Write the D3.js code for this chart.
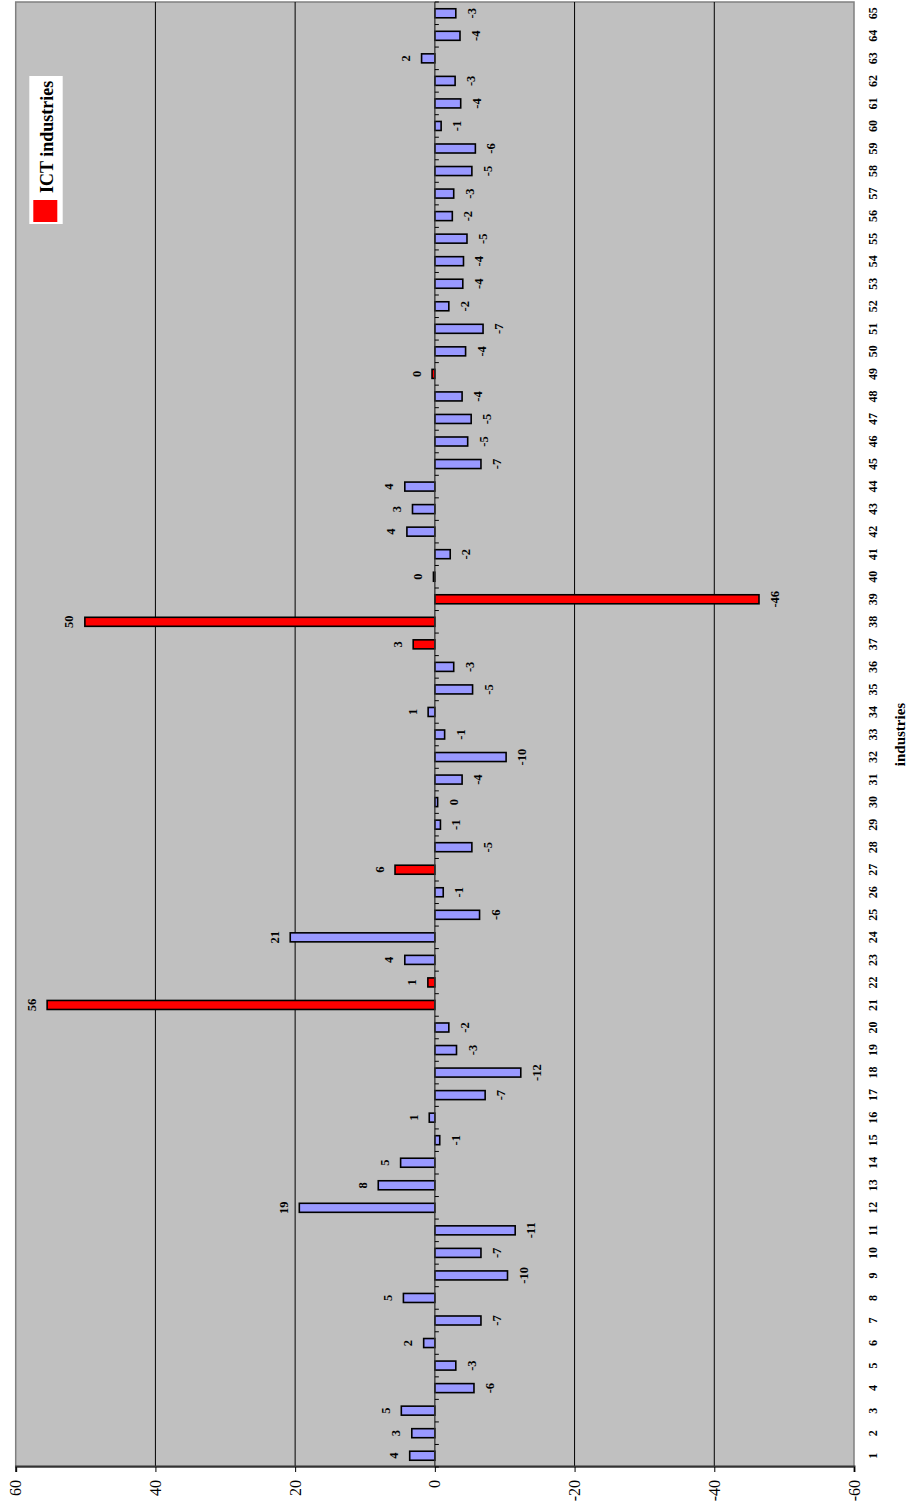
<!DOCTYPE html>
<html>
<head>
<meta charset="utf-8">
<script src="https://cdn.jsdelivr.net/npm/d3@7"></script>
<style>
  body { margin: 0; background: #fff; }
  svg { display: block; }
  text { font-family: "Times New Roman", "Liberation Serif", "DejaVu Serif", serif; }
</style>
</head>
<body>
<svg id="chart"></svg>
<script>
// industry numbers 1..65
const industries = d3.range(1, 66)
// change per industry
const values = [
  3.6, 3.3, 4.8, -5.6, -3.0, 1.6, -6.6, 4.5, -10.4, -6.6,
  -11.5, 19.4, 8.1, 4.9, -0.7, 0.8, -7.2, -12.3, -3.1, -2.0,
  55.5, 1.0, 4.3, 20.7, -6.4, -1.2, 5.7, -5.3, -0.8, -0.4,
  -3.9, -10.2, -1.4, 0.96, -5.4, -2.7, 3.1, 50.1, -46.4, 0.2,
  -2.2, 4.0, 3.2, 4.3, -6.6, -4.7, -5.2, -3.9, 0.4, -4.4,
  -6.9, -2.0, -4.0, -4.1, -4.6, -2.5, -2.7, -5.3, -5.8, -0.9,
  -3.7, -2.9, 1.9, -3.6, -3.0
]
// ICT industries
const ictIndustries = [21, 22, 27, 37, 38, 39, 49]
const valueTicks = [60, 40, 20, 0, -20, -40, -60]
const gridTicks = [40, 20, -20, -40]
const legendLabel = 'ICT industries'
const axisTitle = 'industries'

const data = industries.map((d, i) => ({ industry: d, value: values[i], ict: ictIndustries.includes(d) }))

// page is 913 x 1510, chart drawn flat then turned a quarter left
const pageW = 913
const pageH = 1510
const plot = { left: 43, right: 1508, top: 15.7, bottom: 854 }

const svg = d3.select('#chart').attr('width', pageW).attr('height', pageH)
const g = svg.append('g').attr('transform', `translate(0,${pageH}) rotate(-90)`)

const x = d3.scaleBand()
  .domain(industries)
  .range([plot.left, plot.right])
  .paddingInner(0.6)
  .paddingOuter(0.3)

const y = d3.scaleLinear()
  .domain([-60, 60])
  .range([plot.bottom, plot.top])

// plot area
g.append('rect')
  .attr('x', plot.left)
  .attr('y', plot.top)
  .attr('width', plot.right - plot.left)
  .attr('height', plot.bottom - plot.top)
  .attr('fill', '#c0c0c0')
  .attr('stroke', '#808080')
  .attr('stroke-width', 1.5)

// gridlines
g.selectAll('.grid')
  .data(gridTicks)
  .enter()
  .append('line')
  .attr('class', 'grid')
  .attr('x1', plot.left)
  .attr('x2', plot.right)
  .attr('y1', d => y(d))
  .attr('y2', d => y(d))
  .attr('stroke', '#000')
  .attr('stroke-width', 1)

// value axis
const yAxis = d3.axisLeft(y).tickValues(valueTicks).tickSize(5).tickPadding(8)
const yG = g.append('g')
  .attr('transform', `translate(${plot.left},0)`)
  .call(yAxis)
yG.select('.domain').attr('stroke', '#333').attr('stroke-width', 2)
yG.selectAll('.tick line').attr('stroke', '#000')
yG.selectAll('.tick text')
  .attr('font-size', 16)
  .attr('fill', '#000')
  .style('font-family', '"Times New Roman", "Liberation Serif", serif')
  .text(d => String(d))

// bars
g.selectAll('.bar')
  .data(data)
  .enter()
  .append('rect')
  .attr('class', 'bar')
  .attr('x', d => x(d.industry))
  .attr('width', x.bandwidth())
  .attr('y', d => y(Math.max(0, d.value)))
  .attr('height', d => Math.abs(y(d.value) - y(0)))
  .attr('fill', d => d.ict ? '#ff0000' : '#9999ff')
  .attr('stroke', '#000')
  .attr('stroke-width', 1.6)

// category axis line at zero with ticks between the industries
const zeroY = y(0)
g.append('line')
  .attr('x1', plot.left)
  .attr('x2', plot.right)
  .attr('y1', zeroY)
  .attr('y2', zeroY)
  .attr('stroke', '#333')
  .attr('stroke-width', 1.3)
const bounds = d3.range(industries.length + 1).map(i => plot.left + i * x.step())
g.selectAll('.ctick')
  .data(bounds)
  .enter()
  .append('line')
  .attr('class', 'ctick')
  .attr('x1', d => d)
  .attr('x2', d => d)
  .attr('y1', zeroY)
  .attr('y2', zeroY + 4)
  .attr('stroke', '#000')
  .attr('stroke-width', 1)

// data labels
g.selectAll('.lbl')
  .data(data)
  .enter()
  .append('text')
  .attr('class', 'lbl')
  .attr('x', d => x(d.industry) + x.bandwidth() / 2)
  .attr('y', d => d.value >= 0 ? y(d.value) - 11.5 : y(d.value) + 20)
  .attr('text-anchor', 'middle')
  .attr('font-size', 12.5)
  .attr('font-weight', 'bold')
  .text(d => String(Math.round(d.value) || 0))

// category labels at the low end
const xAxis = d3.axisBottom(x).tickSize(0).tickPadding(0)
const xG = g.append('g')
  .attr('transform', `translate(0,${plot.bottom})`)
  .call(xAxis)
xG.select('.domain').remove()
xG.selectAll('.tick text')
  .attr('y', 23)
  .attr('dy', 0)
  .attr('font-size', 12)
  .attr('font-weight', 'bold')
  .attr('fill', '#000')
  .style('font-family', '"Times New Roman", "Liberation Serif", serif')

// axis title
g.append('text')
  .attr('x', (plot.left + plot.right) / 2)
  .attr('y', 905)
  .attr('text-anchor', 'middle')
  .attr('font-size', 15)
  .attr('font-weight', 'bold')
  .text(axisTitle)

// legend
const leg = g.append('g').attr('transform', 'translate(1286,29.3)')
leg.append('rect')
  .attr('width', 148)
  .attr('height', 33.4)
  .attr('fill', '#fff')
leg.append('rect')
  .attr('x', 2)
  .attr('y', 4)
  .attr('width', 22)
  .attr('height', 24)
  .attr('fill', '#ff0000')
leg.append('text')
  .attr('x', 31)
  .attr('y', 23.5)
  .attr('font-size', 18)
  .attr('font-weight', 'bold')
  .text(legendLabel)
</script>
</body>
</html>
